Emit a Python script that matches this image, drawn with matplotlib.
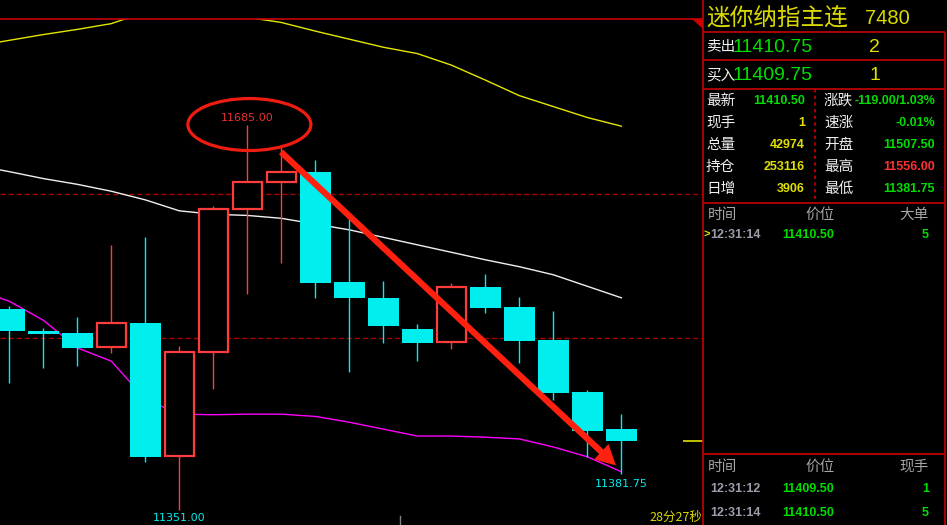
import numpy as np
import matplotlib
matplotlib.use('Agg')
import matplotlib.pyplot as plt
from matplotlib.patches import Ellipse, Polygon

# ---- K-line data (oldest -> newest) ----
opens  = [11525.25, 11506.25, 11504.50, 11492.00, 11513.00, 11397.50, 11487.75, 11611.75, 11635.25, 11644.25,
          11548.75, 11534.75, 11508.00, 11496.50, 11544.50, 11527.00, 11498.50, 11453.25, 11421.00]
closes = [11506.25, 11503.75, 11491.75, 11513.00, 11397.00, 11487.75, 11611.75, 11635.25, 11644.00, 11548.00,
          11535.00, 11510.75, 11496.00, 11544.50, 11526.50, 11497.75, 11452.50, 11419.50, 11410.50]
highs  = [11528.00, 11508.50, 11518.25, 11580.75, 11587.50, 11493.25, 11614.75, 11685.00, 11666.25, 11654.50,
          11603.50, 11549.50, 11512.25, 11547.75, 11555.75, 11535.75, 11523.50, 11455.00, 11434.00]
lows   = [11461.00, 11474.25, 11476.00, 11487.25, 11392.75, 11351.00, 11456.00, 11538.50, 11565.50, 11535.00,
          11470.75, 11496.00, 11480.50, 11490.25, 11522.00, 11478.00, 11446.25, 11396.50, 11381.75]

# moving averages, one value per bar starting one bar left of the first visible bar
ma_x = list(range(-1, 19))
ma_yellow  = [11753.5, 11758.5, 11763.5, 11768.0, 11773.0, 11783.0, 11788.5, 11790.0, 11778.5, 11774.0,
              11766.5, 11759.5, 11752.5, 11747.0, 11737.0, 11724.0, 11710.5, 11701.0, 11691.5, 11684.0]
ma_white   = [11650.0, 11644.5, 11638.5, 11633.5, 11627.5, 11620.0, 11610.5, 11607.5, 11606.5, 11604.0,
              11599.0, 11594.0, 11587.5, 11581.0, 11574.5, 11568.0, 11562.0, 11555.0, 11545.0, 11535.0]
ma_magenta = [11542.0, 11532.0, 11515.5, 11491.5, 11480.0, 11447.0, 11434.0, 11433.5, 11434.0, 11434.0,
              11432.0, 11427.0, 11421.0, 11415.0, 11415.0, 11414.0, 11412.5, 11405.5, 11397.0, 11384.0]

ref_levels = [11625.0, 11500.0]

# ---- quote panel ----
title_name = '迷你纳指主连'
title_code = '7480'
ask_price, ask_vol = '11410.75', '2'
bid_price, bid_vol = '11409.75', '1'
left_labels  = ['最新', '现手', '总量', '持仓', '日增']
left_values  = ['11410.50', '1', '42974', '253116', '3906']
right_labels = ['涨跌', '速涨', '开盘', '最高', '最低']
right_values = ['-119.00/1.03%', '-0.01%', '11507.50', '11556.00', '11381.75']
big_header = ['时间', '价位', '大单']
big_rows = [('12:31:14', '11410.50', '5')]
tick_header = ['时间', '价位', '现手']
tick_rows = [('12:31:12', '11409.50', '1'), ('12:31:14', '11410.50', '5')]
countdown = '28分27秒'

CYAN = '#00eeee'
RED = '#ff3c3c'
GREEN = '#00dd00'
YELLOW = '#e0e000'
BORDER = '#c80000'
CJK = ['Noto Sans CJK SC', 'DejaVu Sans']
NUM = ['Liberation Sans', 'DejaVu Sans']

W, H = 947, 525
fig = plt.figure(figsize=(W / 100, H / 100), dpi=100, facecolor='black')

# chart area: x 0..703 px, y 19..525 px
bar_px, first_px = 34.0, 9.33
px_per_pt, anchor_pt, anchor_px = 1.152, 11685.0, 125.0
ax = fig.add_axes([0, 0, 703 / W, (H - 19) / H])
ax.set_facecolor('black')
ax.set_xlim(-first_px / bar_px, (703 - first_px) / bar_px)
ax.set_ylim(anchor_pt - (H - anchor_px) / px_per_pt, anchor_pt + (anchor_px - 19) / px_per_pt)
ax.axis('off')

for lvl in ref_levels:
    ax.axhline(lvl, color='#a80000', lw=1, dashes=(3.6, 2.2), zorder=1)

ax.plot(ma_x, ma_yellow, color='#e6e600', lw=1, zorder=2)
ax.plot(ma_x, ma_white, color='#f0f0f0', lw=1, zorder=2)
ax.plot(ma_x, ma_magenta, color='#ff00ff', lw=1, zorder=2)

x = np.arange(len(opens))
o, c, h, l = map(np.array, (opens, closes, highs, lows))
up = c >= o
dn = ~up
# falling bars: solid cyan
ax.vlines(x[dn], l[dn], h[dn], color=CYAN, lw=1, zorder=3)
ax.bar(x[dn], o[dn] - c[dn], bottom=c[dn], width=0.9, color=CYAN, lw=0, zorder=4)
# rising bars: hollow red
ax.vlines(x[up], c[up], h[up], color=RED, lw=1, zorder=3)
ax.vlines(x[up], l[up], o[up], color=RED, lw=1, zorder=3)
ax.bar(x[up], c[up] - o[up], bottom=o[up], width=0.87, facecolor='black', edgecolor=RED, lw=1.6, zorder=4)

# last price marker
ax.hlines(closes[-1], (683 - first_px) / bar_px, (703 - first_px) / bar_px, color=YELLOW, lw=1.2, zorder=3)

# high / low labels
hi_i = int(np.argmax(h))
lo_i = int(np.argmin(l))
ax.annotate(f'{highs[hi_i]:.2f}', xy=(hi_i, highs[hi_i]), xytext=(0, 5.0), textcoords='offset points',
            ha='center', va='center', color='#e83030', fontsize=8, family='DejaVu Sans', zorder=6)
ax.annotate(f'{lows[lo_i]:.2f}', xy=(lo_i, lows[lo_i]), xytext=(0, -6), textcoords='offset points',
            ha='center', va='center', color=CYAN, fontsize=8, family='DejaVu Sans', zorder=6)
ax.annotate(f'{lows[-1]:.2f}', xy=(x[-1], lows[-1]), xytext=(0, -6.6), textcoords='offset points',
            ha='center', va='center', color=CYAN, fontsize=8, family='DejaVu Sans', zorder=6)

# red ellipse around the high and the trend arrow
ax.add_patch(Ellipse((hi_i + 0.06, highs[hi_i] + 0.4), 123 / bar_px, 52 / px_per_pt,
                     fill=False, edgecolor='#f01c10', lw=2.3, zorder=7))
ax.annotate('', xy=(17.84, 11389.5), xytext=(7.99, 11661.6),
            arrowprops=dict(arrowstyle='simple,head_length=0.9,head_width=0.95,tail_width=0.28',
                            mutation_scale=16, color='#ff2010', lw=0, shrinkA=0, shrinkB=0), zorder=8)

# ---- overlay in pixel space for frame and quote panel ----
ov = fig.add_axes([0, 0, 1, 1])
ov.set_xlim(0, W)
ov.set_ylim(H, 0)
ov.axis('off')

def hline(y, x0, x1):
    ov.plot([x0, x1], [y, y], color=BORDER, lw=1.2, solid_capstyle='butt')

def vline(xp, y0, y1, **kw):
    ov.plot([xp, xp], [y0, y1], color=BORDER, lw=1.2, solid_capstyle='butt', **kw)

def txt(xp, yp, s, color, size, ha='left', weight='normal', family=CJK):
    ov.text(xp, yp, s, color=color, fontsize=size, ha=ha, va='center', fontweight=weight, family=family)

hline(19.3, 0, 703)
ov.add_patch(Polygon([(692, 19.3), (703, 19.3), (703, 29)], closed=True, color=BORDER, lw=0))
vline(703, 0, H)
vline(944.5, 31.7, H)
for yy in (31.7, 60.2, 88.5, 203.3, 454.3):
    hline(yy, 703, 944.5)
vline(815, 88.5, 203.3, dashes=(2, 2))
ov.plot([400, 400], [516, 525], color='#808080', lw=1)

# title
txt(706, 18.5, title_name, '#dada00', 17)
txt(865, 18.5, title_code, '#dada00', 14.5, family=NUM)

# ask / bid
txt(706, 47.5, '卖出', '#f0f0f0', 10.5)
txt(733, 47.5, ask_price, GREEN, 14, family=NUM)
txt(880, 47.5, ask_vol, YELLOW, 14, ha='right', family=NUM)
txt(706, 75.5, '买入', '#f0f0f0', 10.5)
txt(733, 75.5, bid_price, GREEN, 14, family=NUM)
txt(880, 75.5, bid_vol, YELLOW, 14, ha='right', family=NUM)

# quote grid
left_colors = [GREEN, YELLOW, YELLOW, YELLOW, YELLOW]
right_colors = [GREEN, GREEN, GREEN, '#ff3030', GREEN]
for k in range(len(left_labels)):
    yy = 100.5 + 22 * k
    txt(706, yy, left_labels[k], '#f0f0f0', 10.5)
    txt(805, yy, left_values[k], left_colors[k], 9, ha='right', weight='bold', family=NUM)
    txt(824, yy, right_labels[k], '#f0f0f0', 10.5)
    txt(935, yy, right_values[k], right_colors[k], 9, ha='right', weight='bold', family=NUM)

# big orders table
GRAY = '#a6a6a6'
def table(y_head, header, rows, y_first):
    txt(708, y_head, header[0], GRAY, 10.5)
    txt(820, y_head, header[1], GRAY, 10.5, ha='center')
    txt(929, y_head, header[2], GRAY, 10.5, ha='right')
    for r, (tm, px, vol) in enumerate(rows):
        yy = y_first + 24 * r
        txt(710, yy, tm, '#9c9cab', 9, weight='bold', family=NUM)
        txt(834, yy, px, GREEN, 9, ha='right', weight='bold', family=NUM)
        txt(929, yy, vol, GREEN, 9, ha='right', weight='bold', family=NUM)

table(215, big_header, big_rows, 235)
txt(703.5, 235, '>', YELLOW, 8, weight='bold', family=NUM)
table(466.5, tick_header, tick_rows, 488.5)

txt(702, 517.5, countdown, '#d8d800', 9, ha='right')

fig.savefig('out.png', dpi=100, facecolor='black')
